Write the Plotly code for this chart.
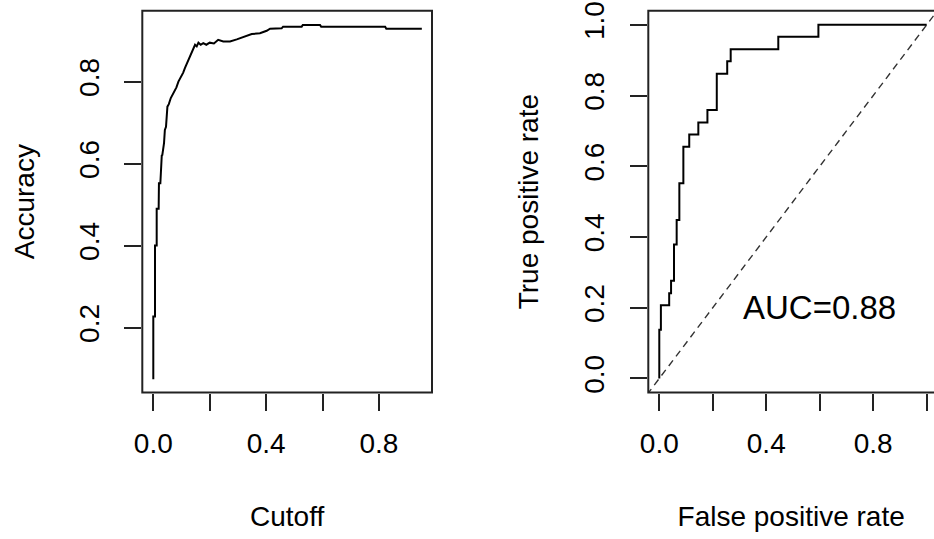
import plotly.graph_objects as go

# ---- data: accuracy vs cutoff ----
cutoff = [0.0, 0.0, 0.006, 0.006, 0.012, 0.012, 0.019, 0.020, 0.025, 0.027,
          0.030, 0.032, 0.035, 0.038, 0.041, 0.045, 0.050, 0.055, 0.062, 0.068,
          0.077, 0.082, 0.089, 0.094, 0.100, 0.106, 0.112, 0.118, 0.124, 0.130,
          0.136, 0.142, 0.148, 0.154, 0.160, 0.168, 0.177, 0.188, 0.200, 0.215,
          0.230, 0.248, 0.272, 0.296, 0.325, 0.349, 0.378, 0.402, 0.414, 0.455,
          0.460, 0.526, 0.530, 0.591, 0.595, 0.822, 0.826, 0.952]
accuracy = [0.074, 0.227, 0.227, 0.400, 0.400, 0.490, 0.490, 0.552, 0.552, 0.597,
            0.620, 0.621, 0.633, 0.650, 0.682, 0.690, 0.739, 0.745, 0.760, 0.768,
            0.780, 0.786, 0.800, 0.806, 0.816, 0.822, 0.833, 0.842, 0.853, 0.860,
            0.873, 0.880, 0.890, 0.886, 0.895, 0.890, 0.894, 0.890, 0.895, 0.893,
            0.902, 0.898, 0.898, 0.903, 0.910, 0.916, 0.918, 0.924, 0.929, 0.930,
            0.934, 0.934, 0.938, 0.938, 0.934, 0.934, 0.929, 0.929]

# ---- data: ROC curve (step corners) ----
fpr = [0.0, 0.0, 0.006, 0.037, 0.044, 0.055, 0.065, 0.075, 0.090, 0.112,
       0.146, 0.180, 0.215, 0.254, 0.267, 0.445, 0.595, 1.0]
tpr = [0.0, 0.138, 0.207, 0.241, 0.276, 0.379, 0.448, 0.552, 0.655, 0.690,
       0.724, 0.759, 0.862, 0.897, 0.931, 0.966, 1.0, 1.0]
diag = [-0.1, 1.1]          # y = x reference line
auc_label = "AUC=0.88"
auc_pos = (0.6, 0.2)

# ---- ticks ----
acc_xticks = [0.0, 0.2, 0.4, 0.6, 0.8]
acc_xtext = ["0.0", "", "0.4", "", "0.8"]
acc_yticks = [0.2, 0.4, 0.6, 0.8]
acc_ytext = ["0.2", "0.4", "0.6", "0.8"]
roc_xticks = [0.0, 0.2, 0.4, 0.6, 0.8, 1.0]
roc_xtext = ["0.0", "", "0.4", "", "0.8", ""]
roc_yticks = [0.0, 0.2, 0.4, 0.6, 0.8, 1.0]
roc_ytext = ["0.0", "0.2", "0.4", "0.6", "0.8", "1.0"]

W, H = 934, 539
FONT = "Liberation Sans, Arial, sans-serif"
INK = "#222222"

def px(v):
    return v / W

def py(v):
    return 1 - v / H

L_dom = [px(142.3), px(432.0)]
R_dom = [px(648.3), 1.0]
Y_dom = [py(392.6), py(10.7)]

fig = go.Figure()
fig.add_trace(go.Scatter(x=cutoff, y=accuracy, mode="lines",
                         line=dict(color="black", width=2),
                         xaxis="x", yaxis="y", showlegend=False))
fig.add_trace(go.Scatter(x=diag, y=diag, mode="lines",
                         line=dict(color="#333333", width=1.4, dash="7px,5px"),
                         xaxis="x2", yaxis="y2", showlegend=False))
fig.add_trace(go.Scatter(x=fpr, y=tpr, mode="lines",
                         line=dict(color="black", width=2, shape="hv"),
                         xaxis="x2", yaxis="y2", showlegend=False))

tickfont = dict(family=FONT, size=28, color="black")
common = dict(showgrid=False, zeroline=False, showline=False,
              ticks="outside", ticklen=17, tickwidth=2, tickcolor=INK,
              tickfont=tickfont, automargin=False, ticklabeloverflow="allow")

fig.update_layout(
    width=W, height=H,
    margin=dict(l=0, r=0, t=0, b=0),
    paper_bgcolor="white", plot_bgcolor="white",
    font=dict(family=FONT, size=28, color="black"),
    xaxis=dict(domain=L_dom, range=[-0.039, 0.988], anchor="y",
               tickvals=acc_xticks, ticktext=acc_xtext, ticklabelstandoff=9,
               title=dict(text="Cutoff", font=tickfont, standoff=48), **common),
    yaxis=dict(domain=Y_dom, range=[0.0415, 0.973], anchor="x",
               tickvals=acc_yticks, ticktext=acc_ytext, tickangle=-90,
               ticklabelstandoff=14,
               title=dict(text="Accuracy", font=tickfont, standoff=31), **common),
    xaxis2=dict(domain=R_dom, range=[-0.0411, 1.0273], anchor="y2",
                tickvals=roc_xticks, ticktext=roc_xtext, ticklabelstandoff=9,
                title=dict(text="False positive rate", font=tickfont, standoff=48), **common),
    yaxis2=dict(domain=Y_dom, range=[-0.04, 1.04], anchor="x2",
                tickvals=roc_yticks, ticktext=roc_ytext, tickangle=-90,
                ticklabelstandoff=15,
                title=dict(text="True positive rate", font=tickfont, standoff=32), **common),
    shapes=[
        dict(type="rect", xref="paper", yref="paper",
             x0=L_dom[0], x1=L_dom[1], y0=Y_dom[0], y1=Y_dom[1],
             line=dict(color=INK, width=2)),
        dict(type="rect", xref="paper", yref="paper",
             x0=R_dom[0], x1=px(937.4), y0=Y_dom[0], y1=Y_dom[1],
             line=dict(color=INK, width=2)),
    ],
    annotations=[
        dict(x=auc_pos[0], y=auc_pos[1], xref="x2", yref="y2", text=auc_label,
             showarrow=False, font=dict(family=FONT, size=33, color="black"))
    ],
)

fig.write_html("out.html",
               config={"displayModeBar": False},
               post_script="document.body.style.margin='0';")
